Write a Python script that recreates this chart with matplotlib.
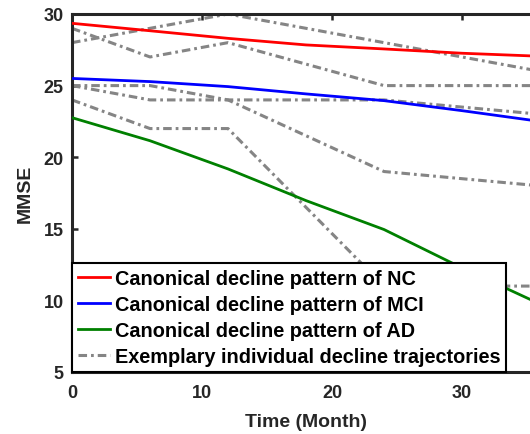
import matplotlib
matplotlib.use("Agg")
import matplotlib.pyplot as plt

# Canonical curves
canon_months = [0, 6, 12, 18, 24, 30, 36]
nc_mmse = [29.35, 28.83, 28.3, 27.84, 27.56, 27.26, 27.05]
mci_mmse = [25.5, 25.28, 24.93, 24.42, 23.95, 23.25, 22.5]
ad_mmse = [22.76, 21.15, 19.18, 16.97, 14.95, 12.27, 9.75]

# Individual trajectories
indiv_months = [0, 6, 12, 24, 36]
traj1 = [28, 29, 30, 28, 26]
traj2 = [29, 27, 28, 25, 25]
traj3 = [25, 24, 24, 24, 23]
traj4 = [25, 25, 24, 19, 18]
traj5 = [24, 22, 22, 11, 11]
trajectories = [traj1, traj2, traj3, traj4, traj5]

labels = ["Canonical decline pattern of NC",
          "Canonical decline pattern of MCI",
          "Canonical decline pattern of AD",
          "Exemplary individual decline trajectories"]

x_ticks = [0, 10, 20, 30]
y_ticks = [5, 10, 15, 20, 25, 30]

plt.rcParams['font.family'] = ['Liberation Sans', 'DejaVu Sans']
plt.rcParams['font.weight'] = 'bold'

W, H = 530, 435
fig = plt.figure(figsize=(W / 100, H / 100), dpi=100)
ax = fig.add_axes([72 / W, 1 - 373 / H, (540 - 72) / W, (373 - 15) / H])

dark = '#262626'
h_nc, = ax.plot(canon_months, nc_mmse, color='red', lw=2, zorder=3)
h_mci, = ax.plot(canon_months, mci_mmse, color='blue', lw=2, zorder=3)
h_ad, = ax.plot(canon_months, ad_mmse, color='green', lw=2, zorder=3)
h_g = None
for tr in trajectories:
    h_g, = ax.plot(indiv_months, tr, color='#858585', lw=2.2,
                   dashes=(2.8, 1.3, 0.9, 1.3), zorder=2)

ax.set_xlim(0, 36)
ax.set_ylim(5, 30)
ax.set_xticks(x_ticks)
ax.set_yticks(y_ticks)
for s in ax.spines.values():
    s.set_linewidth(2.2)
    s.set_color(dark)
ax.tick_params(direction='in', length=4.5, width=1.8, colors=dark,
               labelsize=13, top=True, right=False)
ax.tick_params(axis='x', pad=9)
ax.tick_params(axis='y', pad=6)
for lab in ax.get_xticklabels() + ax.get_yticklabels():
    lab.set_fontweight('bold')

ax.set_xlabel("Time (Month)", fontsize=14, fontweight='bold', color=dark, labelpad=8)
ax.set_ylabel("MMSE", fontsize=14, fontweight='bold', color=dark, labelpad=7)

leg = ax.legend([h_nc, h_mci, h_ad, h_g], labels, loc='lower left',
                bbox_to_anchor=(0, 0), borderaxespad=0,
                handlelength=1.6, handletextpad=0.25, labelspacing=0.36,
                borderpad=0.3, fancybox=False, framealpha=1,
                edgecolor='black', prop={'weight': 'bold', 'size': 14.3})
leg.get_frame().set_linewidth(1.5)

fig.savefig("out.png", dpi=100)
